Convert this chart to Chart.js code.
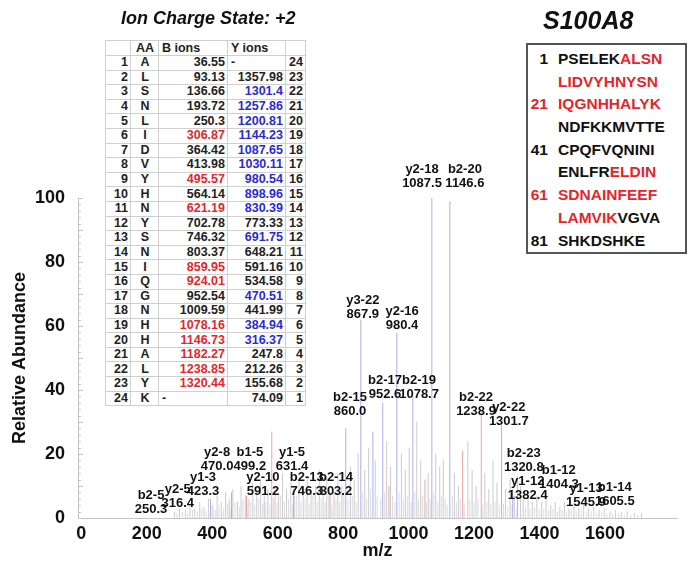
<!DOCTYPE html>
<html>
<head>
<meta charset="utf-8">
<script src="https://cdn.jsdelivr.net/npm/chart.js@4"></script>
<style>
  body { margin: 0; background: #fff; font-family: "Liberation Sans", Arial, sans-serif; }
  #wrap { position: relative; width: 691px; height: 565px; overflow: hidden; }
  #spec { position: absolute; left: 0; top: 0; }
  .heading { position: absolute; font-weight: bold; font-style: italic; color: #111; white-space: nowrap; line-height: 1; }
  #ionTable { position: absolute; left: 105px; top: 40px; width: 200px; border-collapse: collapse; background: #fff;
              font-size: 12.5px; font-weight: bold; color: #222; table-layout: fixed; }
  #ionTable td { border: 1px solid #cfcfcf; height: 13.6px; padding: 0 2px 0 3px; line-height: 13px; white-space: nowrap; overflow: hidden; }
  #ionTable tr:first-child td { height: 14px; }
  #seqBox { position: absolute; left: 526px; top: 43px; width: 157px; height: 204px; border: 2px solid #555; background: #fff;
            font-size: 15.5px; font-weight: bold; color: #111; padding-top: 3px; box-sizing: content-box; }
  #seqBox div { height: 22.7px; line-height: 22.7px; white-space: nowrap; }
  #seqBox .num { display: inline-block; width: 20px; text-align: right; margin-right: 10px; }
</style>
</head>
<body>
<div id="wrap">
  <canvas id="spec" width="691" height="565"></canvas>
  <div class="heading" style="left:121px; top:9px; font-size:18px;">Ion Charge State: +2</div>
  <div class="heading" style="left:543px; top:8px; font-size:25px;">S100A8</div>
  <table id="ionTable"></table>
  <div id="seqBox"></div>
</div>
<script>
// axis ticks
const xTickValues = [0, 200, 400, 600, 800, 1000, 1200, 1400, 1600];
const yTickValues = [0, 20, 40, 60, 80, 100];

// peaks as [m/z, relative abundance]
const bluePeaks = [[808, 28], [854, 62], [891, 27], [921, 36], [964, 58], [1013, 38], [1071, 100],
                   [1126, 99], [1284, 29], [1318, 9], [459, 8], [395, 6], [648, 9]];
const redPeaks = [[582, 27], [760, 8], [940, 10], [1050, 12], [1165, 21], [1222, 33], [1333, 13], [505, 7]];
const grayPeaks = [[285, 2], [300, 3], [318, 2.5], [332, 4], [347, 3], [362, 5], [375, 3.5], [389, 6], [402, 4],
  [415, 7], [428, 5], [441, 8], [452, 6], [463, 9], [477, 5], [488, 10], [501, 7], [512, 6], [524, 11], [536, 8],
  [548, 12], [559, 7], [570, 9], [592, 10], [603, 8], [615, 14], [627, 9], [640, 11], [652, 7], [665, 12],
  [678, 9], [690, 13], [702, 8], [715, 10], [727, 15], [739, 9], [750, 13], [772, 8], [784, 14], [796, 10],
  [822, 16], [834, 12], [846, 20], [866, 15], [878, 22], [898, 18], [933, 24], [945, 16], [978, 20], [990, 15],
  [1002, 22], [1025, 30], [1037, 18], [1060, 14], [1083, 20], [1095, 16], [1106, 18], [1140, 14], [1152, 10],
  [1181, 24], [1194, 15], [1206, 10], [1233, 14], [1245, 9], [1258, 18], [1270, 11], [1296, 9], [1310, 12],
  [1323, 7], [1342, 10], [1350, 6], [1365, 8], [1378, 5], [1392, 7], [1406, 5], [1420, 6], [1434, 4],
  [1448, 5], [1462, 3.5], [1476, 5], [1490, 3], [1505, 4], [1520, 3], [1535, 4.5], [1550, 3], [1566, 3.5],
  [1582, 2.5], [1598, 3], [1615, 2], [1632, 2.5], [1650, 2], [1668, 2], [1690, 1.5], [1712, 1.5]];
// low-level baseline clutter between the main peaks
const basePeaks = [[292, 1.5], [309, 2], [325, 1.5], [340, 2.5], [355, 2], [368, 3], [382, 2], [396, 3.5],
  [409, 2.5], [421, 4], [435, 3], [447, 4.5], [457, 3], [470, 5], [483, 3.5], [494, 6], [507, 4], [518, 5],
  [530, 4], [542, 6], [554, 4.5], [564, 5], [576, 4], [587, 6], [598, 5], [609, 7], [621, 5], [633, 6],
  [646, 4], [658, 7], [671, 5], [684, 6], [696, 4.5], [708, 7], [721, 5], [733, 6], [745, 5], [756, 7],
  [766, 4], [778, 6], [790, 5], [802, 8], [815, 6], [828, 7], [840, 5], [860, 8], [872, 6], [884, 9],
  [904, 7], [915, 6], [927, 8], [951, 7], [958, 5], [971, 8], [984, 6], [996, 7], [1008, 5], [1019, 8],
  [1031, 6], [1043, 7], [1055, 5], [1066, 6], [1077, 8], [1089, 5], [1100, 7], [1112, 6], [1118, 4],
  [1134, 7], [1146, 5], [1158, 6], [1170, 4], [1187, 6], [1200, 5], [1212, 6], [1227, 4], [1239, 5],
  [1251, 4.5], [1264, 5], [1277, 4], [1290, 4.5], [1303, 3.5], [1316, 4], [1329, 3], [1357, 3.5],
  [1371, 3], [1385, 3.5], [1399, 2.5], [1413, 3], [1427, 2.5], [1441, 3], [1455, 2], [1469, 2.5],
  [1483, 2], [1497, 2.5], [1512, 2], [1527, 2.5], [1543, 2], [1558, 2], [1574, 1.5], [1590, 2],
  [1606, 1.5], [1623, 1.5], [1641, 1.5], [1659, 1], [1679, 1], [1700, 1]];

// fragment annotations: text lines and where the label sits (m/z, abundance units)
const annNames = ['y2-18', 'b2-20', 'y3-22', 'y2-16', 'b2-17', 'b2-19', 'b2-15', 'b2-22', 'y2-22', 'b2-23',
  'b1-12', 'y1-12', 'y1-13', 'b1-14', 'y2-8', 'b1-5', 'y1-5', 'y1-3', 'y2-10', 'b2-13', 'b2-14', 'b2-5', 'y2-5'];
const annMasses = ['1087.5', '1146.6', '867.9', '980.4', '952.6', '1078.7', '860.0', '1238.9', '1301.7', '1320.8',
  '1404.3', '1382.4', '1545.9', '1605.5', '470.0', '499.2', '631.4', '423.3', '591.2', '746.3', '803.2', '250.3', '316.4'];
const annAt = [[1041, 108.8], [1172, 108.8], [860, 68.1], [980, 64.4], [928, 43.1], [1032, 43.1], [821, 37.8],
  [1206, 37.8], [1306, 34.7], [1352, 20.3], [1459, 15], [1364, 11.3], [1542, 9.1], [1630, 9.7], [415, 20.6],
  [515, 20.6], [644, 20.6], [372, 12.8], [555, 12.8], [689, 12.8], [778, 12.8], [213, 6.9], [295, 8.8]];

// ion table
const aa = ['A', 'L', 'S', 'N', 'L', 'I', 'D', 'V', 'Y', 'H', 'N', 'Y', 'S', 'N', 'I', 'Q', 'G', 'N', 'H', 'H', 'A', 'L', 'Y', 'K'];
const bIons = ['36.55', '93.13', '136.66', '193.72', '250.3', '306.87', '364.42', '413.98', '495.57', '564.14', '621.19',
  '702.78', '746.32', '803.37', '859.95', '924.01', '952.54', '1009.59', '1078.16', '1146.73', '1182.27', '1238.85', '1320.44', '-'];
const yIons = ['-', '1357.98', '1301.4', '1257.86', '1200.81', '1144.23', '1087.65', '1030.11', '980.54', '898.96', '830.39',
  '773.33', '691.75', '648.21', '591.16', '534.58', '470.51', '441.99', '384.94', '316.37', '247.8', '212.26', '155.68', '74.09'];
const bFound = [6, 9, 11, 15, 16, 19, 20, 21, 22, 23];
const yFound = [3, 4, 5, 6, 7, 8, 9, 10, 11, 13, 17, 19, 20];

// protein sequence, covered residue ranges
const seqStart = ['1', '', '21', '', '41', '', '61', '', '81'];
const seqLines = ['PSELEKALSN', 'LIDVYHNYSN', 'IQGNHHALYK', 'NDFKKMVTTE', 'CPQFVQNINI', 'ENLFRELDIN', 'SDNAINFEEF', 'LAMVIKVGVA', 'SHKDSHKE'];
const covered = [[7, 30], [56, 76]];

const RED = '#e3262b';
const BLUE = '#2a2ad2';

// ---- table ----
const tbl = document.getElementById('ionTable');
let html = '<colgroup><col style="width:25px"><col style="width:28px"><col style="width:69px"><col style="width:58px"><col style="width:20px"></colgroup>';
html += '<tr><td></td><td style="text-align:center">AA</td><td>B ions</td><td>Y ions</td><td></td></tr>';
aa.forEach((a, i) => {
    const n = i + 1;
    const bCol = bFound.includes(n) ? RED : '#222';
    const yCol = yFound.includes(n) ? BLUE : '#222';
    const bAlign = bIons[i] === '-' ? 'left' : 'right';
    const yAlign = yIons[i] === '-' ? 'left' : 'right';
    html += `<tr><td style="text-align:right">${n}</td><td style="text-align:center">${a}</td>` +
            `<td style="text-align:${bAlign};color:${bCol}">${bIons[i]}</td>` +
            `<td style="text-align:${yAlign};color:${yCol}">${yIons[i]}</td>` +
            `<td style="text-align:right">${aa.length - i}</td></tr>`;
});
tbl.innerHTML = html;

// ---- sequence box ----
const isCovered = pos => covered.some(r => pos >= r[0] && pos <= r[1]);
const box = document.getElementById('seqBox');
seqLines.forEach((line, li) => {
    const first = li * 10 + 1;
    let s = `<span class="num" style="color:${isCovered(first) ? RED : '#111'}">${seqStart[li]}</span>`;
    for (let k = 0; k < line.length; k++) {
        s += `<span style="color:${isCovered(first + k) ? RED : '#111'}">${line[k]}</span>`;
    }
    const d = document.createElement('div');
    d.innerHTML = s;
    box.appendChild(d);
});

// ---- spectrum ----
function sticks(peaks) {
    const pts = [];
    peaks.forEach(p => {
        pts.push({x: p[0], y: 0}, {x: p[0], y: p[1]}, {x: p[0], y: null});
    });
    return pts;
}

const minorTicks = {
    id: 'minorTicks',
    afterDraw(chart) {
        const {ctx, chartArea} = chart;
        const y = chart.scales.y;
        ctx.save();
        ctx.strokeStyle = '#c4c4c4';
        ctx.lineWidth = 1;
        for (let v = 0; v <= 100; v += 2) {
            const py = Math.round(y.getPixelForValue(v)) + 0.5;
            const len = v % 10 === 0 ? 5 : 3;
            ctx.beginPath();
            ctx.moveTo(chartArea.left, py);
            ctx.lineTo(chartArea.left + len, py);
            ctx.stroke();
        }
        ctx.restore();
    }
};

const peakLabels = {
    id: 'peakLabels',
    afterDatasetsDraw(chart) {
        const {ctx, scales} = chart;
        ctx.save();
        ctx.font = 'bold 13px "Liberation Sans", Arial, sans-serif';
        ctx.fillStyle = '#111';
        ctx.textAlign = 'center';
        ctx.textBaseline = 'middle';
        annAt.forEach((a, i) => {
            const px = scales.x.getPixelForValue(a[0]);
            const py = scales.y.getPixelForValue(a[1]);
            ctx.fillText(annNames[i], px, py);
            ctx.fillText(annMasses[i], px, py + 14);
        });
        ctx.restore();
    }
};

const axisFont = { size: 18, weight: 'bold', family: '"Liberation Sans", Arial' };

const ctx = document.getElementById('spec').getContext('2d');
new Chart(ctx, {
    type: 'scatter',
    data: {
        datasets: [
            { data: sticks(basePeaks), borderColor: 'rgba(175,175,185,0.45)' },
            { data: sticks(grayPeaks), borderColor: 'rgba(160,160,170,0.55)' },
            { data: sticks(redPeaks), borderColor: 'rgba(235,140,140,0.8)' },
            { data: sticks(bluePeaks), borderColor: 'rgba(165,165,235,0.9)' },
        ].map(d => Object.assign(d, { showLine: true, spanGaps: false, borderWidth: 1, pointRadius: 0, pointHoverRadius: 0 }))
    },
    options: {
        responsive: false,
        animation: false,
        events: [],
        layout: { padding: { top: 198, right: 14, bottom: 0, left: 0 } },
        plugins: { legend: { display: false }, tooltip: { enabled: false } },
        scales: {
            x: {
                type: 'linear',
                min: -10,
                max: 1820,
                afterBuildTicks: scale => { scale.ticks = xTickValues.map(v => ({ value: v })); },
                afterFit: scale => { scale.height = 47; },
                grid: { display: false, drawTicks: false },
                border: { display: true, color: '#c4c4c4', width: 1 },
                ticks: { color: '#111', padding: 5, font: axisFont, callback: v => String(v) },
                title: { display: true, text: 'm/z', color: '#111', padding: { top: 0, bottom: 3 }, font: axisFont }
            },
            y: {
                min: 0,
                max: 100,
                afterBuildTicks: scale => { scale.ticks = yTickValues.map(v => ({ value: v })); },
                afterFit: scale => { scale.width = 78; },
                grid: { display: false, drawTicks: false },
                border: { display: true, color: '#c4c4c4', width: 1 },
                ticks: { color: '#111', padding: 13, font: axisFont, callback: v => String(v) },
                title: { display: true, text: 'Relative Abundance', color: '#111', padding: { top: 9, bottom: 0 }, font: axisFont }
            }
        }
    },
    plugins: [minorTicks, peakLabels]
});
</script>
</body>
</html>
